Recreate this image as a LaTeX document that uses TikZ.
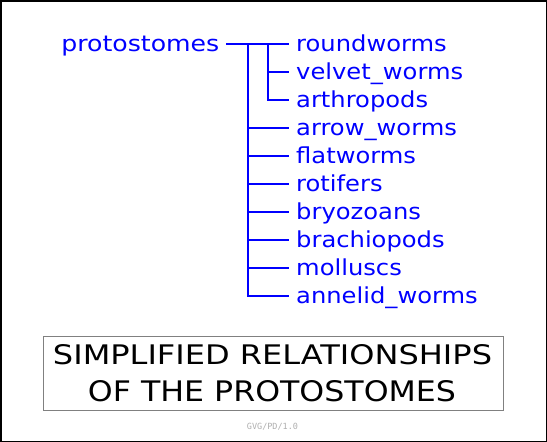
\documentclass[tikz,border=0pt]{standalone}
\usepackage{fontspec}
\usepackage{graphicx}
\setmainfont{DejaVu Sans}
\newfontfamily\labelfont[FakeStretch=1.1]{DejaVu Sans}
\newfontfamily\footfont{DejaVu Sans Mono}
\definecolor{treeblue}{RGB}{0,0,255}
\definecolor{boxgray}{RGB}{128,128,128}
\definecolor{footgray}{RGB}{175,175,175}
\tikzset{
  taxon/.style={anchor=west, inner ysep=0pt, inner xsep=7.5pt, text height=18pt, text depth=3pt,
    font=\labelfont\fontsize{22}{22}\selectfont, text=treeblue},
  rootlabel/.style={anchor=east, inner ysep=0pt, inner xsep=6.5pt, text height=18pt, text depth=3pt,
    font=\labelfont\fontsize{22}{22}\selectfont, text=treeblue},
  branchline/.style={treeblue, line width=2pt},
}
\begin{document}
\begin{tikzpicture}[x=1pt,y=-1pt]
\useasboundingbox (0,0) rectangle (547,442);
\fill[white] (0,0) rectangle (547,442);
\draw[black, line width=1.5pt] (0.75,0.75) rectangle (546.25,441.25);

\node[rootlabel] (root) at (226,43.5) {\scalebox{1.04}[1]{protostomes}};
\coordinate (j1) at (247.5,43.5);
\coordinate (j2) at (267.5,43.5);

\node[taxon] (roundworms) at (288.5,43.5) {roundworms};
\node[taxon] (velvet) at (288.5,71.5) {velvet\_worms};
\node[taxon] (arthropods) at (288.5,99.5) {arthropods};
\node[taxon] (arrow) at (288.5,127.5) {arrow\_worms};
\node[taxon] (flatworms) at (288.5,155.5) {flatworms};
\node[taxon] (rotifers) at (288.5,183.5) {rotifers};
\node[taxon] (bryozoans) at (288.5,211.5) {bryozoans};
\node[taxon] (brachiopods) at (288.5,239.5) {brachiopods};
\node[taxon] (molluscs) at (288.5,267.5) {molluscs};
\node[taxon] (annelid) at (288.5,295.5) {annelid\_worms};

\draw[branchline] (root.east) -- (j1) -- (j2) -- (roundworms.west);
\draw[branchline] (j2) |- (velvet.west);
\draw[branchline] (j2) |- (arthropods.west);
\foreach \n in {arrow,flatworms,rotifers,bryozoans,brachiopods,molluscs,annelid}
  \draw[branchline] (j1) |- (\n.west);

\node[draw=boxgray, line width=1pt, minimum width=460pt, minimum height=74.7pt, inner sep=0pt] (titlebox) at (273.3,373.35) {};
\node[inner sep=0pt, anchor=center] (title1) at (272.5,355) {\resizebox{439pt}{20pt}{SIMPLIFIED RELATIONSHIPS}};
\node[inner sep=0pt, anchor=center] (title2) at (272,391) {\resizebox{368pt}{21pt}{OF THE PROTOSTOMES}};
\node[inner sep=0pt, text=footgray, font=\footfont\fontsize{8.5}{8.5}\selectfont] (foot) at (272.5,427) {GVG/PD/1.0};
\end{tikzpicture}
\end{document}
